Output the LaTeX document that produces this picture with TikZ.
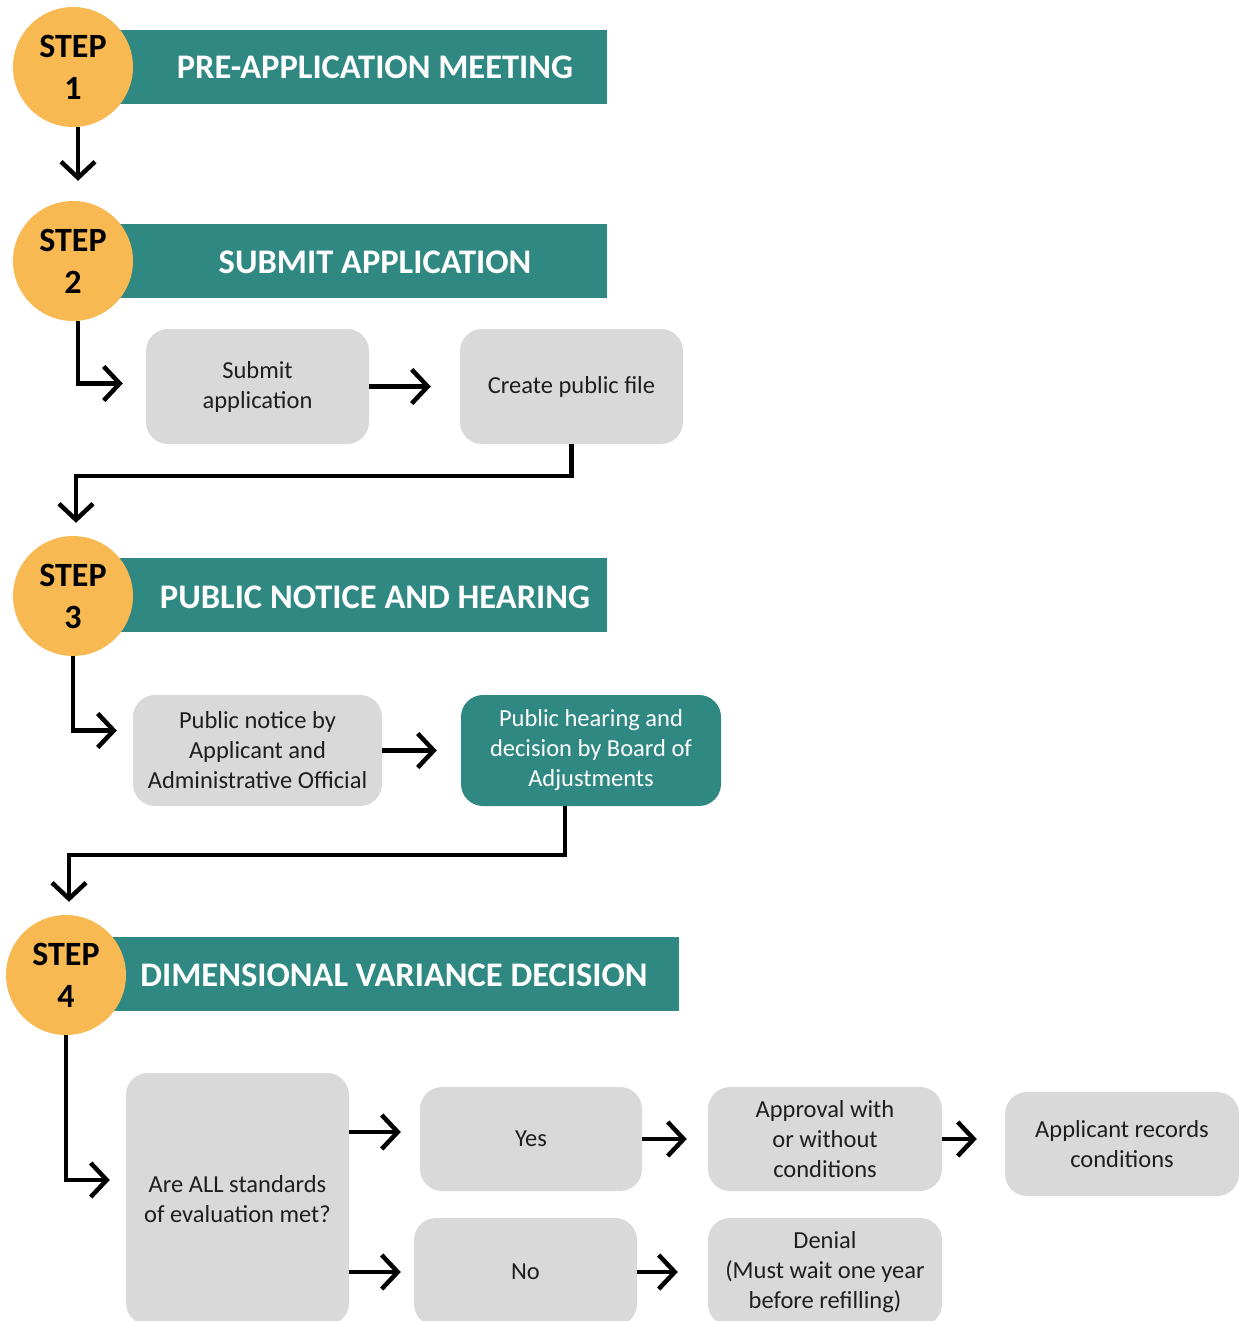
\documentclass[tikz,border=0pt]{standalone}
\usepackage{fontspec}
\setmainfont{Carlito}
\usetikzlibrary{arrows.meta,calc}
\definecolor{teal}{RGB}{47,136,130}
\definecolor{orng}{RGB}{248,185,82}
\definecolor{boxgray}{RGB}{217,217,217}
\definecolor{txt}{RGB}{30,30,30}
\tikzset{
  stepcirc/.style={circle,fill=orng,minimum size=120pt,inner sep=0pt,align=center,
    font=\bfseries\fontsize{34}{42}\selectfont,text=black},
  banner/.style={rectangle,fill=teal,minimum height=74pt,inner sep=0pt,anchor=west},
  bannertext/.style={text=white,font=\bfseries\fontsize{34.5}{40}\selectfont,inner sep=0pt},
  graybox/.style={rectangle,rounded corners=22pt,fill=boxgray,align=center,inner sep=0pt,
    text=txt,font=\fontsize{24.5}{30}\selectfont},
  tealbox/.style={graybox,fill=teal,text=white},
  arr/.style={line width=4.5pt,-{Straight Barb[length=16pt,width=34pt]}}
}
\begin{document}
\begin{tikzpicture}[x=1pt,y=-1pt]
\useasboundingbox (0,0) rectangle (1242,1321);
\clip (0,0) rectangle (1242,1321);
% banners
\node[banner,minimum width=507pt] (b1) at (100,67) {};
\node[banner,minimum width=507pt] (b2) at (100,261) {};
\node[banner,minimum width=507pt] (b3) at (100,595) {};
\node[banner,minimum width=579pt] (b4) at (100,974) {};
\node[bannertext] (t1) at (375,67) {PRE-APPLICATION MEETING};
\node[bannertext] (t2) at (375,262) {SUBMIT APPLICATION};
\node[bannertext] (t3) at (375,597) {PUBLIC NOTICE AND HEARING};
\node[bannertext] (t4) at (394,975) {DIMENSIONAL VARIANCE DECISION};
% step circles
\node[stepcirc] (s1) at (73,67) {STEP\\1};
\node[stepcirc] (s2) at (73,261) {STEP\\2};
\node[stepcirc] (s3) at (73,596) {STEP\\3};
\node[stepcirc] (s4) at (66,975) {STEP\\4};
% boxes
\node[graybox,minimum width=223pt,minimum height=115pt] (sub) at (257.5,386.5) {Submit\\application};
\node[graybox,minimum width=223pt,minimum height=115pt] (cpf) at (571.5,386.5) {Create public file};
\node[graybox,minimum width=249pt,minimum height=111pt] (pn) at (257.5,750.5) {Public notice by\\Applicant and\\Administrative Official};
\node[tealbox,minimum width=260pt,minimum height=111pt] (hear) at (591,750.5) {Public hearing and\\decision by Board of\\Adjustments};
\node[graybox,minimum width=223pt,minimum height=252pt] (are) at (237.5,1199) {Are ALL standards\\of evaluation met?};
\node[graybox,minimum width=222pt,minimum height=104pt] (yes) at (531,1139) {Yes};
\node[graybox,minimum width=223pt,minimum height=108pt] (no) at (525.5,1272) {No};
\node[graybox,minimum width=234pt,minimum height=104pt] (appr) at (825,1139) {Approval with\\or without\\conditions};
\node[graybox,minimum width=234pt,minimum height=104pt] (app) at (1122,1144) {Applicant records\\conditions};
\node[graybox,minimum width=234pt,minimum height=108pt] (den) at (825,1272) {Denial\\(Must wait one year\\before refilling)};
% connectors
\draw[arr,shorten >=20pt] ([xshift=5pt]s1.south) -- ([xshift=5pt]s2.north);
\draw[arr,shorten >=23pt] ([xshift=5pt]s2.south) |- ([yshift=3pt]sub.west);
\draw[arr,shorten >=29pt] (sub.east) -- (cpf.west);
\draw[arr,shorten >=13pt] (cpf.south) -- ++(0,32) -| ([xshift=3pt]s3.north);
\draw[arr,shorten >=16pt] (s3.south) |- ([yshift=20pt]pn.west);
\draw[arr,shorten >=24pt] (pn.east) -- (hear.west);
\draw[arr,shorten >=13pt] ([xshift=-26pt]hear.south) -- ++(0,49) -| ([xshift=3pt]s4.north);
\draw[arr,shorten >=16pt] (s4.south) |- ([yshift=19pt]are.west);
\draw[arr,shorten >=19pt] ($(are.east|-yes.west)+(0,-7)$) -- ($(yes.west)+(0,-7)$);
\draw[arr,shorten >=13pt] (are.east|-no.west) -- (no.west);
\draw[arr,shorten >=21pt] (yes.east) -- (appr.west);
\draw[arr,shorten >=30pt] (no.east) -- (den.west);
\draw[arr,shorten >=28pt] (appr.east) -- (app.west|-appr.east);
\end{tikzpicture}
\end{document}
